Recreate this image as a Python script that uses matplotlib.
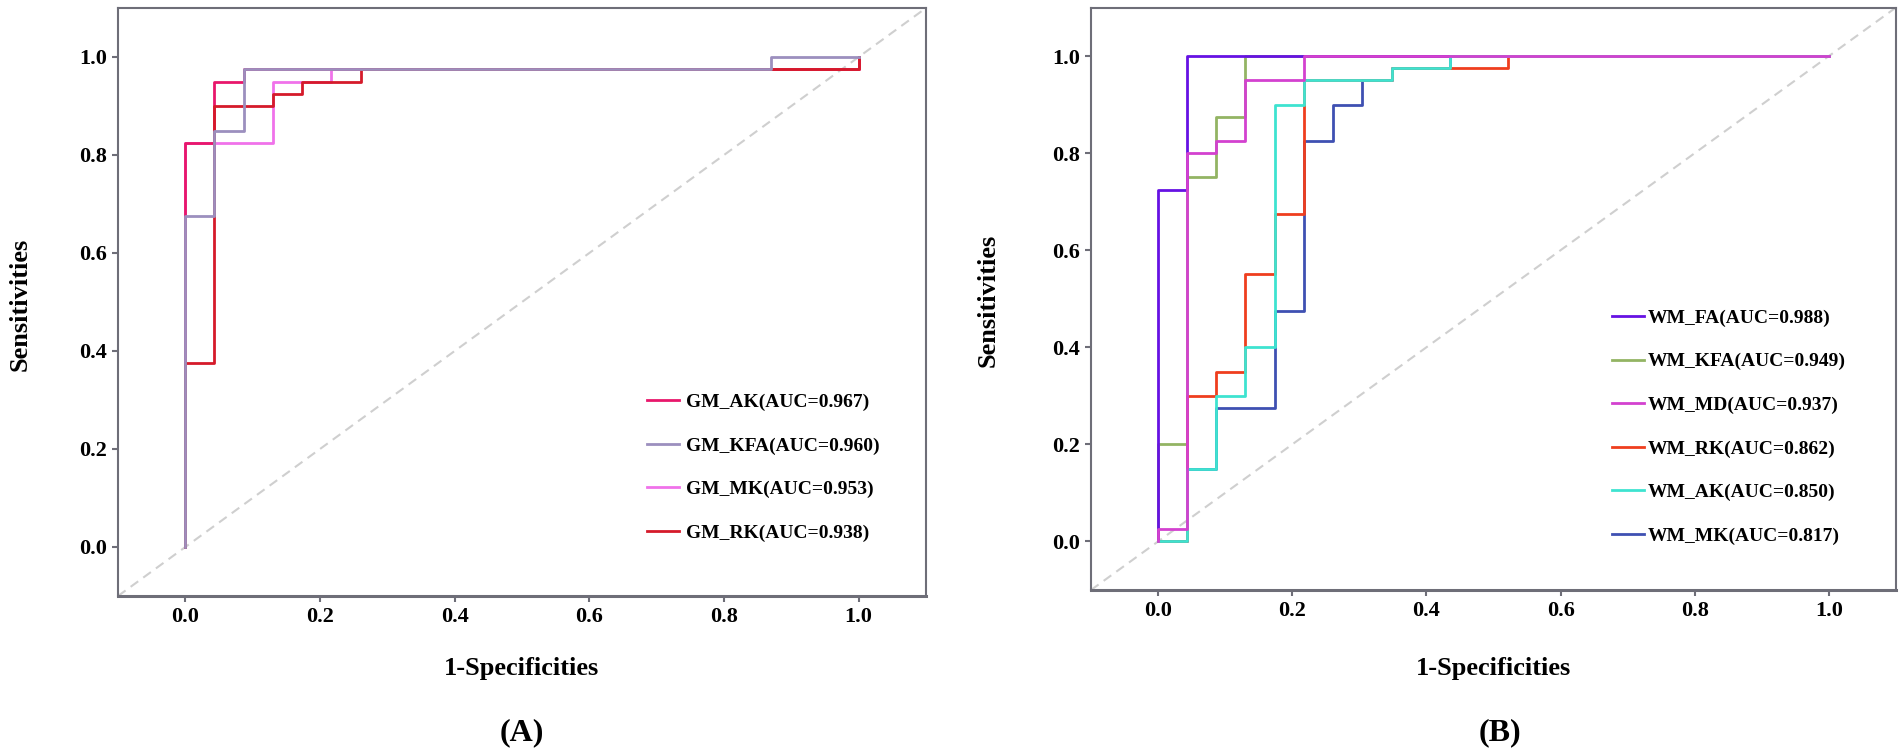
import matplotlib
matplotlib.use("Agg")
import matplotlib.pyplot as plt

plt.rcParams["font.family"] = ["Liberation Serif", "DejaVu Serif"]
plt.rcParams["font.weight"] = "bold"

# ROC vertices (1-specificity, sensitivity)
gm_labels = ["GM_AK(AUC=0.967)", "GM_KFA(AUC=0.960)", "GM_MK(AUC=0.953)", "GM_RK(AUC=0.938)"]
gm_colors = ["#E8176B", "#9C8FBE", "#F072EA", "#D51A2A"]
gm_z = [3, 5, 2, 4]
gm_fpr = [
    [0, 0, 0.043, 0.043, 0.087, 0.087, 1, 1],
    [0, 0, 0.043, 0.043, 0.087, 0.087, 0.870, 0.870, 1],
    [0, 0, 0.130, 0.130, 0.217, 0.217, 1, 1],
    [0, 0, 0.043, 0.043, 0.130, 0.130, 0.174, 0.174, 0.261, 0.261, 1, 1],
]
gm_tpr = [
    [0, 0.825, 0.825, 0.95, 0.95, 0.975, 0.975, 1],
    [0, 0.675, 0.675, 0.85, 0.85, 0.975, 0.975, 1, 1],
    [0, 0.825, 0.825, 0.95, 0.95, 0.975, 0.975, 1],
    [0, 0.375, 0.375, 0.9, 0.9, 0.925, 0.925, 0.95, 0.95, 0.975, 0.975, 1],
]

wm_labels = ["WM_FA(AUC=0.988)", "WM_KFA(AUC=0.949)", "WM_MD(AUC=0.937)",
             "WM_RK(AUC=0.862)", "WM_AK(AUC=0.850)", "WM_MK(AUC=0.817)"]
wm_colors = ["#6612E3", "#93B463", "#D341CF", "#EF3E1E", "#3EE3D0", "#3F50B2"]
wm_z = [3, 2, 7, 5, 6, 4]
wm_fpr = [
    [0, 0, 0.043, 0.043, 1],
    [0, 0, 0.043, 0.043, 0.087, 0.087, 0.130, 0.130, 1],
    [0, 0, 0.043, 0.043, 0.087, 0.087, 0.130, 0.130, 0.217, 0.217, 1],
    [0, 0.043, 0.043, 0.087, 0.087, 0.130, 0.130, 0.174, 0.174, 0.217, 0.217,
     0.348, 0.348, 0.522, 0.522, 1],
    [0, 0.043, 0.043, 0.087, 0.087, 0.130, 0.130, 0.174, 0.174, 0.217, 0.217,
     0.348, 0.348, 0.435, 0.435, 1],
    [0, 0.043, 0.043, 0.087, 0.087, 0.174, 0.174, 0.217, 0.217, 0.261, 0.261,
     0.304, 0.304, 0.348, 0.348, 0.435, 0.435, 1],
]
wm_tpr = [
    [0, 0.725, 0.725, 1, 1],
    [0, 0.2, 0.2, 0.75, 0.75, 0.875, 0.875, 1, 1],
    [0, 0.025, 0.025, 0.8, 0.8, 0.825, 0.825, 0.95, 0.95, 1, 1],
    [0, 0, 0.3, 0.3, 0.35, 0.35, 0.55, 0.55, 0.675, 0.675, 0.95, 0.95,
     0.975, 0.975, 1, 1],
    [0, 0, 0.15, 0.15, 0.3, 0.3, 0.4, 0.4, 0.9, 0.9, 0.95, 0.95,
     0.975, 0.975, 1, 1],
    [0, 0, 0.15, 0.15, 0.275, 0.275, 0.475, 0.475, 0.825, 0.825, 0.9, 0.9,
     0.95, 0.95, 0.975, 0.975, 1, 1],
]

ticks = [0.0, 0.2, 0.4, 0.6, 0.8, 1.0]
tick_labels = ["0.0", "0.2", "0.4", "0.6", "0.8", "1.0"]

W, H = 1902, 748
fig = plt.figure(figsize=(W / 100, H / 100), dpi=100)

spine_col = "#6E6E78"


def px_axes(x0, y0, x1, y1):
    # pixel box (top-left origin) -> figure axes
    return fig.add_axes([x0 / W, 1 - y1 / H, (x1 - x0) / W, (y1 - y0) / H])


def draw_panel(ax, fprs, tprs, labels, colors, zs, leg_anchor, handletextpad):
    ax.axline((0, 0), slope=1, color="#CFCFCF", lw=1.5,
              linestyle=(0, (4.5, 3)), zorder=1)
    for fx, ty, lab, col, z in zip(fprs, tprs, labels, colors, zs):
        ax.plot(fx, ty, color=col, lw=2.0, label=lab, zorder=z)
    ax.set_xlim(-0.1, 1.1)
    ax.set_ylim(-0.1, 1.1)
    ax.set_xticks(ticks)
    ax.set_xticklabels(tick_labels)
    ax.set_yticks(ticks)
    ax.set_yticklabels(tick_labels)
    for s in ax.spines.values():
        s.set_color(spine_col)
        s.set_linewidth(1.5)
    ax.spines["bottom"].set_linewidth(2.2)
    ax.tick_params(direction="out", length=4, width=1.5, color=spine_col,
                   labelsize=16, pad=4)
    for t in ax.get_xticklabels() + ax.get_yticklabels():
        t.set_fontweight("bold")
    ax.legend(loc="center left", bbox_to_anchor=leg_anchor, frameon=False,
              handlelength=1.65, handletextpad=handletextpad,
              labelspacing=1.33, borderpad=0, borderaxespad=0,
              prop={"weight": "bold", "size": 14})


ax1 = px_axes(118, 8, 926, 596)
draw_panel(ax1, gm_fpr, gm_tpr, gm_labels, gm_colors, gm_z, (0.655, 0.2185), 0.36)

ax2 = px_axes(1091, 7.5, 1896, 590)
draw_panel(ax2, wm_fpr, wm_tpr, wm_labels, wm_colors, wm_z, (0.647, 0.28), 0.2)


def ftext(x, y, s, size, rot=0):
    fig.text(x / W, 1 - y / H, s, fontsize=size, fontweight="bold",
             ha="center", va="center", rotation=rot)


ftext(20, 304, "Sensitivities", 19, rot=90)
ftext(988, 300, "Sensitivities", 19, rot=90)
ftext(522, 668, "1-Specificities", 19)
ftext(1494, 668, "1-Specificities", 19)
ftext(522, 733, "(A)", 23)
ftext(1500, 733, "(B)", 23)

fig.savefig("out.png", dpi=100)
